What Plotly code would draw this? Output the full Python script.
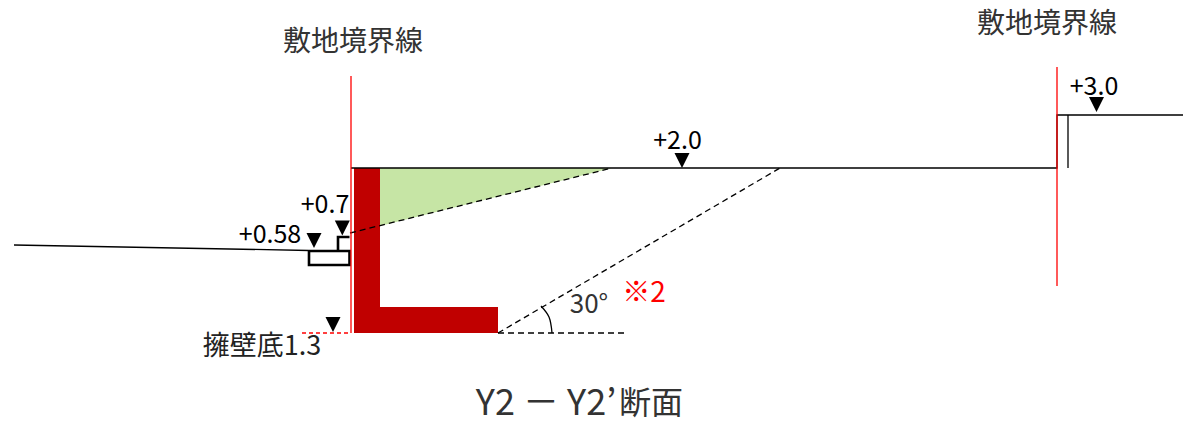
import plotly.graph_objects as go

# Outline coordinates (image pixels)
wall_x = [354, 380, 380, 498, 498, 354, 354]
wall_y = [168, 168, 307, 307, 333, 333, 168]
soil_x = [380, 612, 380, 380]
soil_y = [168, 168, 226, 168]
left_boundary_x = [351, 351]
left_boundary_y = [76, 333]
right_boundary_x = [1057, 1057]
right_boundary_y = [67, 286]
ground_left_x = [14, 309]
ground_left_y = [245, 250.5]
ground_top_x = [351, 1057, 1057, 1183]
ground_top_y = [168, 168, 115, 115]
fence_x = [1068, 1068]
fence_y = [115, 168]
gutter_x = [309, 349.5, 349.5, 309, 309]
gutter_y = [251, 251, 265, 265, 251]
curb_x = [338, 338, 349.5]
curb_y = [250, 237, 237]
dash_upper_x = [350, 612]
dash_upper_y = [233, 168]
dash_slope_x = [498, 780]
dash_slope_y = [333, 168]
dash_base_x = [498, 625]
dash_base_y = [333, 333]
red_dash_x = [302, 351]
red_dash_y = [333, 333]
arc_x = [541, 549, 552]
arc_y = [306, 317, 333]
marker_x = [682, 1096.5, 342.3, 314, 333]
marker_y = [160.5, 104.5, 228, 240.5, 324.5]
labels = ["敷地境界線", "敷地境界線", "+2.0", "+3.0", "+0.7", "+0.58", "擁壁底1.3", "30°", "※2", "Y2 － Y2’", "断面"]
label_x = [353, 1047, 677.5, 1094, 325, 270, 262, 589, 644, 546, 651]
label_y = [44, 26, 143, 89, 207, 237, 348, 306, 295, 406, 406]
label_size = [28, 28, 25, 25, 25, 25, 27, 26, 28, 36, 32]
label_color = ["#333333", "#333333", "#000000", "#000000", "#000000", "#000000", "#222222", "#333333", "#ff0000", "#333333", "#333333"]

FONT = "Noto Sans CJK JP"
HALF = 7.5
fig = go.Figure()


def line(x, y, color="#000000", width=1.3, dash="solid", shape="linear"):
    fig.add_trace(go.Scatter(x=x, y=y, mode="lines", hoverinfo="skip", showlegend=False,
                             line=dict(color=color, width=width, dash=dash, shape=shape)))


tri_x, tri_y = [], []
for mx, my in zip(marker_x, marker_y):
    tri_x += [mx - HALF, mx + HALF, mx, mx - HALF, None]
    tri_y += [my - HALF, my - HALF, my + HALF, my - HALF, None]

fig.add_trace(go.Scatter(x=soil_x, y=soil_y, mode="lines", fill="toself", fillcolor="#c6e5a5",
                         line=dict(width=0), hoverinfo="skip", showlegend=False))
fig.add_trace(go.Scatter(x=wall_x, y=wall_y, mode="lines", fill="toself", fillcolor="#c00000",
                         line=dict(width=0), hoverinfo="skip", showlegend=False))
line(ground_left_x, ground_left_y)
line(ground_top_x, ground_top_y)
line(fence_x, fence_y)
line(gutter_x, gutter_y, width=2.6)
line(curb_x, curb_y, width=2.6)
line(dash_upper_x, dash_upper_y, dash="6px,4px")
line(dash_slope_x, dash_slope_y, dash="6px,4px")
line(dash_base_x, dash_base_y, dash="6px,4px")
line(red_dash_x, red_dash_y, color="#ff0000", dash="4px,3px")
line(arc_x, arc_y, shape="spline")
line(left_boundary_x, left_boundary_y, color="#ff0000")
line(right_boundary_x, right_boundary_y, color="#ff0000")
fig.add_trace(go.Scatter(x=tri_x, y=tri_y, mode="lines", fill="toself", fillcolor="#000000",
                         line=dict(width=0), hoverinfo="skip", showlegend=False))
fig.add_trace(go.Scatter(x=label_x, y=label_y, mode="text", text=labels, textposition="middle center",
                         hoverinfo="skip", showlegend=False,
                         textfont=dict(family=FONT, size=label_size, color=label_color)))

fig.update_layout(width=1183, height=424, margin=dict(l=0, r=0, t=0, b=0),
                  paper_bgcolor="#ffffff", plot_bgcolor="#ffffff", showlegend=False,
                  xaxis=dict(range=[0, 1183], visible=False, fixedrange=True),
                  yaxis=dict(range=[424, 0], visible=False, fixedrange=True))
fig.write_html("out.html", post_script="document.body.style.margin='0';", config={"displayModeBar": False})
